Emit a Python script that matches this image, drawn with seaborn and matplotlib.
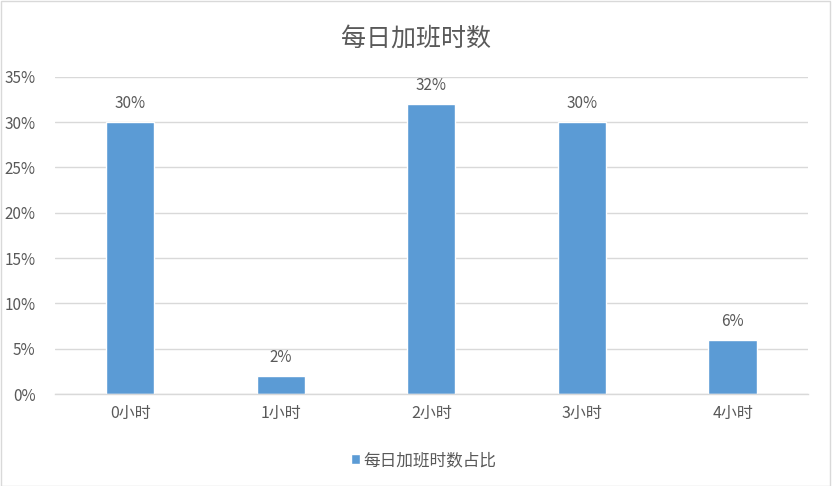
import pandas as pd
import matplotlib
matplotlib.use("Agg")
import matplotlib.pyplot as plt
import seaborn as sns
from matplotlib.patches import Rectangle
from matplotlib.ticker import PercentFormatter

# 数据
categories = ['0小时', '1小时', '2小时', '3小时', '4小时']
values = [0.30, 0.02, 0.32, 0.30, 0.06]
series_name = '每日加班时数占比'

df = pd.DataFrame({'hours': categories, 'share': values, 'series': series_name})

sns.set_style('white')
plt.rcParams['font.family'] = ['Noto Sans CJK SC', 'DejaVu Sans']

text_color = '#595959'
bar_color = '#5B9BD5'
grid_color = '#D9D9D9'

fig = plt.figure(figsize=(8.32, 4.86), dpi=100)
ax = fig.add_axes([0.066, 0.189, 0.905, 0.653])

sns.barplot(data=df, x='hours', y='share', hue='series', palette=[bar_color],
            width=0.32, ax=ax, saturation=1)

ax.set_ylim(0, 0.35)
ax.set_yticks([0, 0.05, 0.10, 0.15, 0.20, 0.25, 0.30, 0.35])
ax.yaxis.set_major_formatter(PercentFormatter(1.0, decimals=0))
ax.grid(axis='y', color=grid_color, linewidth=1)
ax.set_axisbelow(True)
for side in ['top', 'right', 'left']:
    ax.spines[side].set_visible(False)
ax.spines['bottom'].set_color(grid_color)
ax.spines['bottom'].set_linewidth(1)
ax.tick_params(axis='y', length=0, colors=text_color, labelsize=11, pad=14)
ax.tick_params(axis='x', length=0, colors=text_color, labelsize=11.5, pad=8)
ax.set_xlabel('')
ax.set_ylabel('')

# 数据标签
for i, v in enumerate(values):
    ax.annotate(f'{v:.0%}', (i, v), xytext=(0, 7), textcoords='offset points',
                ha='center', va='bottom', fontsize=11, color=text_color)

fig.suptitle('每日加班时数', fontsize=18, color=text_color, y=0.948)

ax.legend(loc='upper center', bbox_to_anchor=(0.49, -0.135), frameon=False,
          fontsize=12, labelcolor=text_color, handlelength=0.55,
          handleheight=0.55, handletextpad=0.2)

# 外边框
fig.patches.append(Rectangle((0.001, 0.001), 0.997, 0.997, transform=fig.transFigure,
                             fill=False, edgecolor='#D9D9D9', linewidth=1))

plt.savefig('out.png', dpi=100)
